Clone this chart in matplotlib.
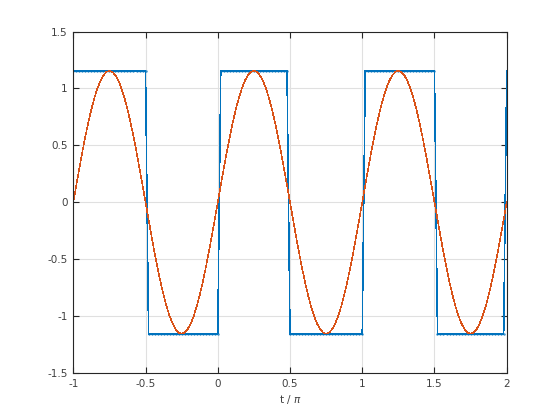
import numpy as np
import matplotlib
matplotlib.use("Agg")
import matplotlib.pyplot as plt

# sample grid (t / pi)
t_start, t_end, n_samples = -1.0, 2.0, 145

# blue: square wave samples
square_vals = [
    1.155, 1.155, 1.155, 1.155, 1.155, 1.155, 1.155, 1.155, 1.155, 1.155,
    1.155, 1.155, 1.155, 1.155, 1.155, 1.155, 1.155, 1.155, 1.155, 1.155,
    1.155, 1.155, 1.155, 1.155, 1.155,
    -1.155, -1.155, -1.155, -1.155, -1.155, -1.155, -1.155, -1.155, -1.155, -1.155,
    -1.155, -1.155, -1.155, -1.155, -1.155, -1.155, -1.155, -1.155, -1.155, -1.155,
    -1.155, -1.155, -1.155, -1.155,
    1.155, 1.155, 1.155, 1.155, 1.155, 1.155, 1.155, 1.155, 1.155, 1.155,
    1.155, 1.155, 1.155, 1.155, 1.155, 1.155, 1.155, 1.155, 1.155, 1.155,
    1.155, 1.155, 1.155,
    -1.155, -1.155, -1.155, -1.155, -1.155, -1.155, -1.155, -1.155, -1.155, -1.155,
    -1.155, -1.155, -1.155, -1.155, -1.155, -1.155, -1.155, -1.155, -1.155, -1.155,
    -1.155, -1.155, -1.155, -1.155, -1.155,
    1.155, 1.155, 1.155, 1.155, 1.155, 1.155, 1.155, 1.155, 1.155, 1.155,
    1.155, 1.155, 1.155, 1.155, 1.155, 1.155, 1.155, 1.155, 1.155, 1.155,
    1.155, 1.155, 1.155, 1.155,
    -1.155, -1.155, -1.155, -1.155, -1.155, -1.155, -1.155, -1.155, -1.155, -1.155,
    -1.155, -1.155, -1.155, -1.155, -1.155, -1.155, -1.155, -1.155, -1.155, -1.155,
    -1.155, -1.155, -1.155,
    1.155,
]

# orange: sinusoid samples
sine_vals = [
    0.000, 0.151, 0.299, 0.442, 0.577, 0.703, 0.816, 0.916, 1.000, 1.067, 1.115, 1.145,
    1.155, 1.145, 1.115, 1.067, 1.000, 0.916, 0.816, 0.703, 0.577, 0.442, 0.299, 0.151,
    0.000, -0.151, -0.299, -0.442, -0.577, -0.703, -0.816, -0.916, -1.000, -1.067, -1.115, -1.145,
    -1.155, -1.145, -1.115, -1.067, -1.000, -0.916, -0.816, -0.703, -0.577, -0.442, -0.299, -0.151,
    0.000, 0.151, 0.299, 0.442, 0.577, 0.703, 0.816, 0.916, 1.000, 1.067, 1.115, 1.145,
    1.155, 1.145, 1.115, 1.067, 1.000, 0.916, 0.816, 0.703, 0.577, 0.442, 0.299, 0.151,
    0.000, -0.151, -0.299, -0.442, -0.577, -0.703, -0.816, -0.916, -1.000, -1.067, -1.115, -1.145,
    -1.155, -1.145, -1.115, -1.067, -1.000, -0.916, -0.816, -0.703, -0.577, -0.442, -0.299, -0.151,
    0.000, 0.151, 0.299, 0.442, 0.577, 0.703, 0.816, 0.916, 1.000, 1.067, 1.115, 1.145,
    1.155, 1.145, 1.115, 1.067, 1.000, 0.916, 0.816, 0.703, 0.577, 0.442, 0.299, 0.151,
    0.000, -0.151, -0.299, -0.442, -0.577, -0.703, -0.816, -0.916, -1.000, -1.067, -1.115, -1.145,
    -1.155, -1.145, -1.115, -1.067, -1.000, -0.916, -0.816, -0.703, -0.577, -0.442, -0.299, -0.151,
    0.000,
]

x_ticks = [-1, -0.5, 0, 0.5, 1, 1.5, 2]
x_labels = ["-1", "-0.5", "0", "0.5", "1", "1.5", "2"]
y_ticks = [-1.5, -1, -0.5, 0, 0.5, 1, 1.5]
y_labels = ["-1.5", "-1", "-0.5", "0", "0.5", "1", "1.5"]

t = np.linspace(t_start, t_end, n_samples)

fig = plt.figure(figsize=(5.6, 4.2), dpi=100)
ax = fig.add_axes([73.3 / 560, 47 / 420, (506.7 - 73.3) / 560, (373 - 31.5) / 420])

ax.plot(t, square_vals, color="#0072BD", lw=0.4, antialiased=False)
ax.plot(t, square_vals, color="#0072BD", lw=0, marker=".", ms=2.8,
        markeredgewidth=0.3, alpha=0.75)
ax.plot(t, sine_vals, color="#D95319", lw=0.4, antialiased=False)

ax.set_xlim(-1, 2)
ax.set_ylim(-1.5, 1.5)
ax.set_xticks(x_ticks)
ax.set_xticklabels(x_labels)
ax.set_yticks(y_ticks)
ax.set_yticklabels(y_labels)

ax.grid(True, color="#e0e0e0", lw=0.8)
ax.set_axisbelow(True)
for s in ax.spines.values():
    s.set_color("#262626")
    s.set_linewidth(0.8)
ax.tick_params(direction="in", length=4, width=0.8, color="#262626",
               labelcolor="#404040", labelsize=7.5, top=True, right=True,
               pad=4)
ax.set_xlabel(r"t / $\pi$", fontsize=7.5, color="#404040", labelpad=3)

fig.savefig("out.png", dpi=100)
